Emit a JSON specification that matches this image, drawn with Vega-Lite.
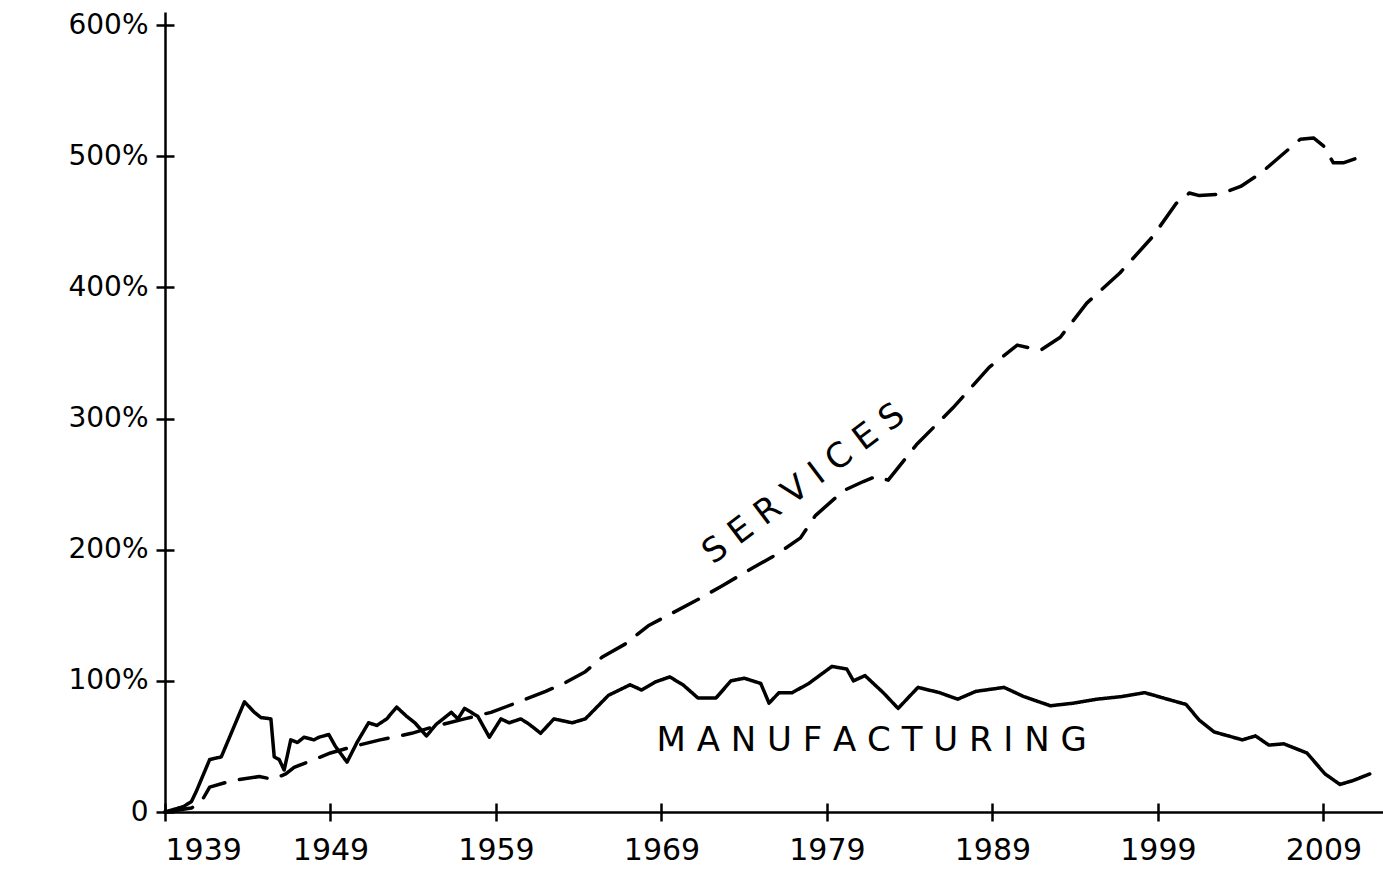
{
  "$schema": "https://vega.github.io/schema/vega-lite/v6.json",
  "width": 1218,
  "height": 800,
  "autosize": {"type": "none"},
  "padding": {"left": 165, "top": 12, "right": 0, "bottom": 80},
  "background": "white",
  "config": {
    "view": {"stroke": null},
    "font": "DejaVu Sans",
    "axis": {
      "domainColor": "black", "domainWidth": 2.5,
      "tickColor": "black", "tickWidth": 2.5, "tickSize": 9,
      "grid": true, "gridColor": "black", "gridWidth": 2.5, "gridOpacity": 1,
      "labelColor": "black", "labelFont": "DejaVu Sans", "title": null
    }
  },
  "datasets": {
    "series": [
      {"series": "Manufacturing", "year": 1939.0, "value": 0},
      {"series": "Manufacturing", "year": 1940.1, "value": 4},
      {"series": "Manufacturing", "year": 1940.6, "value": 8},
      {"series": "Manufacturing", "year": 1940.9, "value": 16},
      {"series": "Manufacturing", "year": 1941.7, "value": 40},
      {"series": "Manufacturing", "year": 1942.4, "value": 42},
      {"series": "Manufacturing", "year": 1943.1, "value": 63},
      {"series": "Manufacturing", "year": 1943.8, "value": 84},
      {"series": "Manufacturing", "year": 1944.4, "value": 76},
      {"series": "Manufacturing", "year": 1944.8, "value": 72},
      {"series": "Manufacturing", "year": 1945.4, "value": 71},
      {"series": "Manufacturing", "year": 1945.6, "value": 42},
      {"series": "Manufacturing", "year": 1945.9, "value": 40},
      {"series": "Manufacturing", "year": 1946.2, "value": 32},
      {"series": "Manufacturing", "year": 1946.6, "value": 55},
      {"series": "Manufacturing", "year": 1947.0, "value": 53},
      {"series": "Manufacturing", "year": 1947.4, "value": 57},
      {"series": "Manufacturing", "year": 1948.0, "value": 55},
      {"series": "Manufacturing", "year": 1948.3, "value": 57},
      {"series": "Manufacturing", "year": 1948.9, "value": 59},
      {"series": "Manufacturing", "year": 1949.3, "value": 50},
      {"series": "Manufacturing", "year": 1950.0, "value": 38},
      {"series": "Manufacturing", "year": 1950.6, "value": 53},
      {"series": "Manufacturing", "year": 1951.3, "value": 68},
      {"series": "Manufacturing", "year": 1951.8, "value": 66},
      {"series": "Manufacturing", "year": 1952.4, "value": 71},
      {"series": "Manufacturing", "year": 1953.0, "value": 80},
      {"series": "Manufacturing", "year": 1953.6, "value": 73},
      {"series": "Manufacturing", "year": 1954.1, "value": 68},
      {"series": "Manufacturing", "year": 1954.8, "value": 58},
      {"series": "Manufacturing", "year": 1955.4, "value": 67},
      {"series": "Manufacturing", "year": 1956.3, "value": 76},
      {"series": "Manufacturing", "year": 1956.7, "value": 71},
      {"series": "Manufacturing", "year": 1957.1, "value": 79},
      {"series": "Manufacturing", "year": 1957.9, "value": 73},
      {"series": "Manufacturing", "year": 1958.6, "value": 57},
      {"series": "Manufacturing", "year": 1959.3, "value": 71},
      {"series": "Manufacturing", "year": 1959.8, "value": 68},
      {"series": "Manufacturing", "year": 1960.5, "value": 71},
      {"series": "Manufacturing", "year": 1961.0, "value": 67},
      {"series": "Manufacturing", "year": 1961.7, "value": 60},
      {"series": "Manufacturing", "year": 1962.5, "value": 71},
      {"series": "Manufacturing", "year": 1963.6, "value": 68},
      {"series": "Manufacturing", "year": 1964.4, "value": 71},
      {"series": "Manufacturing", "year": 1965.8, "value": 89},
      {"series": "Manufacturing", "year": 1967.1, "value": 97},
      {"series": "Manufacturing", "year": 1967.8, "value": 93},
      {"series": "Manufacturing", "year": 1968.6, "value": 99},
      {"series": "Manufacturing", "year": 1969.5, "value": 103},
      {"series": "Manufacturing", "year": 1970.3, "value": 97},
      {"series": "Manufacturing", "year": 1971.2, "value": 87},
      {"series": "Manufacturing", "year": 1972.3, "value": 87},
      {"series": "Manufacturing", "year": 1973.2, "value": 100},
      {"series": "Manufacturing", "year": 1974.0, "value": 102},
      {"series": "Manufacturing", "year": 1975.0, "value": 98},
      {"series": "Manufacturing", "year": 1975.5, "value": 83},
      {"series": "Manufacturing", "year": 1976.1, "value": 91},
      {"series": "Manufacturing", "year": 1976.9, "value": 91},
      {"series": "Manufacturing", "year": 1977.9, "value": 98},
      {"series": "Manufacturing", "year": 1979.3, "value": 111},
      {"series": "Manufacturing", "year": 1980.2, "value": 109},
      {"series": "Manufacturing", "year": 1980.6, "value": 100},
      {"series": "Manufacturing", "year": 1981.3, "value": 104},
      {"series": "Manufacturing", "year": 1982.4, "value": 91},
      {"series": "Manufacturing", "year": 1983.3, "value": 79},
      {"series": "Manufacturing", "year": 1984.5, "value": 95},
      {"series": "Manufacturing", "year": 1985.8, "value": 91},
      {"series": "Manufacturing", "year": 1986.9, "value": 86},
      {"series": "Manufacturing", "year": 1988.0, "value": 92},
      {"series": "Manufacturing", "year": 1989.7, "value": 95},
      {"series": "Manufacturing", "year": 1990.9, "value": 88},
      {"series": "Manufacturing", "year": 1992.5, "value": 81},
      {"series": "Manufacturing", "year": 1993.9, "value": 83},
      {"series": "Manufacturing", "year": 1995.3, "value": 86},
      {"series": "Manufacturing", "year": 1996.8, "value": 88},
      {"series": "Manufacturing", "year": 1998.2, "value": 91},
      {"series": "Manufacturing", "year": 1999.3, "value": 87},
      {"series": "Manufacturing", "year": 2000.7, "value": 82},
      {"series": "Manufacturing", "year": 2001.5, "value": 70},
      {"series": "Manufacturing", "year": 2002.4, "value": 61},
      {"series": "Manufacturing", "year": 2004.1, "value": 55},
      {"series": "Manufacturing", "year": 2004.9, "value": 58},
      {"series": "Manufacturing", "year": 2005.7, "value": 51},
      {"series": "Manufacturing", "year": 2006.6, "value": 52},
      {"series": "Manufacturing", "year": 2008.0, "value": 45},
      {"series": "Manufacturing", "year": 2009.1, "value": 29},
      {"series": "Manufacturing", "year": 2010.0, "value": 21},
      {"series": "Manufacturing", "year": 2010.8, "value": 24},
      {"series": "Manufacturing", "year": 2011.8, "value": 29},
      {"series": "Services", "year": 1939.0, "value": 0},
      {"series": "Services", "year": 1940.6, "value": 3},
      {"series": "Services", "year": 1941.2, "value": 8},
      {"series": "Services", "year": 1941.7, "value": 19},
      {"series": "Services", "year": 1943.1, "value": 24},
      {"series": "Services", "year": 1944.7, "value": 27},
      {"series": "Services", "year": 1945.5, "value": 25},
      {"series": "Services", "year": 1946.3, "value": 29},
      {"series": "Services", "year": 1946.8, "value": 34},
      {"series": "Services", "year": 1948.0, "value": 40},
      {"series": "Services", "year": 1949.0, "value": 45},
      {"series": "Services", "year": 1950.4, "value": 50},
      {"series": "Services", "year": 1952.0, "value": 55},
      {"series": "Services", "year": 1953.9, "value": 60},
      {"series": "Services", "year": 1955.5, "value": 66},
      {"series": "Services", "year": 1957.1, "value": 71},
      {"series": "Services", "year": 1958.7, "value": 76},
      {"series": "Services", "year": 1960.4, "value": 84},
      {"series": "Services", "year": 1962.0, "value": 92},
      {"series": "Services", "year": 1963.1, "value": 98},
      {"series": "Services", "year": 1964.4, "value": 107},
      {"series": "Services", "year": 1965.4, "value": 118},
      {"series": "Services", "year": 1966.8, "value": 128},
      {"series": "Services", "year": 1968.2, "value": 142},
      {"series": "Services", "year": 1969.4, "value": 150},
      {"series": "Services", "year": 1971.2, "value": 162},
      {"series": "Services", "year": 1972.6, "value": 172},
      {"series": "Services", "year": 1974.5, "value": 186},
      {"series": "Services", "year": 1975.9, "value": 196},
      {"series": "Services", "year": 1977.4, "value": 209},
      {"series": "Services", "year": 1978.3, "value": 226},
      {"series": "Services", "year": 1980.0, "value": 245},
      {"series": "Services", "year": 1981.2, "value": 252},
      {"series": "Services", "year": 1982.0, "value": 256},
      {"series": "Services", "year": 1982.7, "value": 253},
      {"series": "Services", "year": 1984.4, "value": 280},
      {"series": "Services", "year": 1986.6, "value": 308},
      {"series": "Services", "year": 1988.8, "value": 339},
      {"series": "Services", "year": 1990.5, "value": 356},
      {"series": "Services", "year": 1991.9, "value": 352},
      {"series": "Services", "year": 1993.1, "value": 362},
      {"series": "Services", "year": 1994.7, "value": 388},
      {"series": "Services", "year": 1996.7, "value": 411},
      {"series": "Services", "year": 1998.7, "value": 439},
      {"series": "Services", "year": 2000.1, "value": 464},
      {"series": "Services", "year": 2000.9, "value": 472},
      {"series": "Services", "year": 2001.5, "value": 470},
      {"series": "Services", "year": 2002.7, "value": 471},
      {"series": "Services", "year": 2004.0, "value": 477},
      {"series": "Services", "year": 2005.2, "value": 487},
      {"series": "Services", "year": 2006.4, "value": 500},
      {"series": "Services", "year": 2007.6, "value": 513},
      {"series": "Services", "year": 2008.4, "value": 514},
      {"series": "Services", "year": 2009.0, "value": 508},
      {"series": "Services", "year": 2009.6, "value": 495},
      {"series": "Services", "year": 2010.2, "value": 495},
      {"series": "Services", "year": 2010.9, "value": 498}
    ],
    "labels": [
      {"label": "S E R V I C E S", "year": 1977.6, "value": 250},
      {"label": "M A N U F A C T U R I N G", "year": 1981.7, "value": 54}
    ]
  },
  "layer": [
    {
      "data": {"name": "series"},
      "mark": {"type": "line", "color": "black", "strokeWidth": 3.5, "strokeCap": "round", "strokeJoin": "round"},
      "encoding": {
        "x": {
          "field": "year", "type": "quantitative",
          "scale": {"domain": [1939, 2012.6], "nice": false, "zero": false},
          "axis": {"values": [1939, 1949, 1959, 1969, 1979, 1989, 1999, 2009], "format": "d", "labelFontSize": 30, "labelPadding": 14, "gridDash": [9, 791], "gridDashOffset": 9}
        },
        "y": {
          "field": "value", "type": "quantitative",
          "scale": {"domain": [0, 610], "nice": false},
          "axis": {"values": [0, 100, 200, 300, 400, 500, 600], "labelExpr": "datum.value == 0 ? '0' : datum.value + '%'", "labelFontSize": 28, "labelPadding": 8, "gridDash": [9, 5000]}
        },
        "strokeDash": {
          "field": "series", "type": "nominal",
          "scale": {"domain": ["Manufacturing", "Services"], "range": [[1, 0], [28, 15]]},
          "legend": null
        }
      }
    },
    {
      "data": {"name": "labels"},
      "transform": [{"filter": "datum.label == 'S E R V I C E S'"}],
      "mark": {"type": "text", "angle": 323, "fontSize": 34, "color": "black", "align": "center", "baseline": "middle"},
      "encoding": {
        "x": {"field": "year", "type": "quantitative"},
        "y": {"field": "value", "type": "quantitative"},
        "text": {"field": "label"}
      }
    },
    {
      "data": {"name": "labels"},
      "transform": [{"filter": "datum.label != 'S E R V I C E S'"}],
      "mark": {"type": "text", "fontSize": 34, "color": "black", "align": "center", "baseline": "middle"},
      "encoding": {
        "x": {"field": "year", "type": "quantitative"},
        "y": {"field": "value", "type": "quantitative"},
        "text": {"field": "label"}
      }
    }
  ]
}
